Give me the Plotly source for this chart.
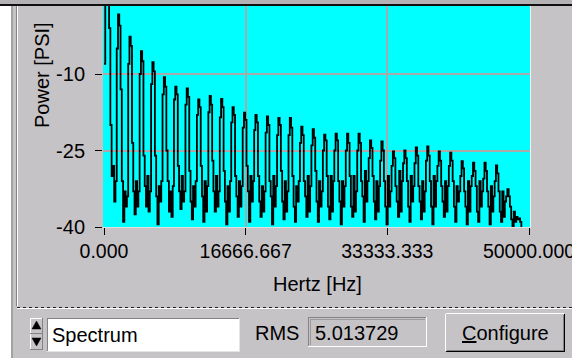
import plotly.graph_objects as go

# ---------------- data ----------------
freq_step_hz = 149.7
power_psi = [
    -8, 5,
    6, 4, -1, -20, -30, -28, -35, -31, -5,
    1.7, -0.5, -13, -31, -39, -33, -36, -34, -8,
    -2.7, -4.5, -23.5, -33, -37.5, -31, -36, -33, -10,
    -5.5, -7.5, -26, -32, -36, -30, -37, -33, -12,
    -7.7, -9.5, -26, -34, -39.5, -32, -35, -31, -14,
    -10.6, -12.5, -25, -31, -37, -33, -38, -32, -15,
    -12.5, -14, -28, -33, -36.5, -30, -35, -33, -16,
    -12.8, -14.5, -29, -35, -38.5, -32, -36, -31, -18,
    -15, -16.5, -28, -34, -39, -31, -37, -32, -17.5,
    -14.3, -16, -27, -33, -37, -30, -36, -33, -18.5,
    -14.9, -16.5, -29, -35, -39.5, -32, -37, -31, -19.5,
    -16.5, -18, -30, -34, -38, -31, -36, -32, -20.5,
    -17.6, -19, -28, -33, -39, -30, -35, -31, -21,
    -18, -19.5, -30, -35, -38, -32, -37, -33, -21.5,
    -18.3, -20, -31, -34, -39.5, -30, -36, -32, -22,
    -18.6, -20, -29, -35, -38.5, -31, -37, -33, -22,
    -18.6, -20.5, -30, -36, -39, -32, -35, -31, -23.5,
    -20.3, -22, -31, -34, -38, -30, -37, -32, -24,
    -20.8, -22.5, -29, -35, -39, -31, -36, -33, -25,
    -21.9, -23, -30, -36, -38.5, -30, -37, -31, -25,
    -21.7, -23, -31, -35, -39.5, -31, -36, -32, -25,
    -21.7, -23.5, -30, -36, -38, -30, -37, -33, -25,
    -21.7, -23.5, -31, -34, -39, -29, -35, -31, -26.5,
    -23, -24.5, -30, -35, -38.5, -31, -37, -32, -27,
    -23.2, -25, -31, -36, -39.5, -30, -36, -33, -28,
    -25.2, -26.5, -32, -35, -38, -29, -37, -31, -27.5,
    -25, -26.5, -31, -36, -39, -30, -35, -32, -27.5,
    -24.4, -26, -32, -35, -38.5, -31, -37, -33, -27,
    -24.2, -26, -31, -36, -39.5, -30, -36, -31, -28,
    -25.2, -27, -32, -35, -38, -31, -37, -32, -28,
    -25.4, -27, -31, -36, -39, -32, -35, -33, -30,
    -27.1, -28.5, -33, -36, -39.5, -31, -37, -32, -30,
    -27.4, -29, -32, -37, -39, -31, -36, -33, -30.5,
    -27.4, -29, -33, -36, -39.5, -32, -37, -34, -31,
    -27.9, -29.5, -33, -37, -39, -33, -38, -35, -34,
    -32.6, -34, -36, -38.5, -40.5, -37, -39, -38, -38.5,
    -38.3, -39, -41, -42, -43, -42, -44, -45, -45,
]
x_tick_vals = [0, 16666.667, 33333.333, 50000]
x_tick_text = ["0.000", "16666.667", "33333.333", "50000.000"]
y_tick_vals = [-40, -25, -10]
y_tick_text = ["-40", "-25", "-10"]
x_title = "Hertz [Hz]"
y_title = "Power [PSI]"
mode_label = "Spectrum"
rms_label = "RMS"
rms_value = "5.013729"
button_label = "<u>C</u>onfigure"

freqs = [i * freq_step_hz for i in range(len(power_psi))]

# ---------------- geometry helpers ----------------
W, H = 572, 358
PL, PR, PT, PB = 103, 530, 6, 227
FONT = "Liberation Sans, Arial, sans-serif"
GRAY = "#C6C3C6"
DARK = "#848284"


def px(x):
    return (x - PL) / (PR - PL)


def py(y):
    return (PB - y) / (PB - PT)


shapes = []


def rect(x0, y0, x1, y1, fill, line_color=None, lw=0):
    shapes.append(dict(type="rect", xref="paper", yref="paper",
                       x0=px(x0), x1=px(x1), y0=py(y0), y1=py(y1),
                       fillcolor=fill, layer="above",
                       line=dict(color=line_color or fill, width=lw)))


def seg(x0, y0, x1, y1, color, lw=1, dash="solid"):
    shapes.append(dict(type="line", xref="paper", yref="paper",
                       x0=px(x0), x1=px(x1), y0=py(y0), y1=py(y1),
                       layer="above", line=dict(color=color, width=lw, dash=dash)))


def tri(points, color):
    d = "M " + " L ".join(f"{px(a)},{py(b)}" for a, b in points) + " Z"
    shapes.append(dict(type="path", xref="paper", yref="paper", path=d,
                       fillcolor=color, layer="above", line=dict(color=color, width=0.5)))


# window frame
rect(0, 0, W, 4, "#B5B2B5")
rect(0, 4, W, 6, "#101010")
rect(0, 6, 11, H, "#FFFFFF")
rect(11, 6, 13, H, "#A5A2A5")
seg(16.5, 6, 16.5, 306, DARK)
seg(17.5, 6, 17.5, 306, "#FFFFFF")
seg(17, 307.5, W, 307.5, "#202020", 1, "dot")
seg(17, 308.5, W, 308.5, "#FFFFFF")

# plot frame edges
seg(PR + 0.5, PT, PR + 0.5, PB + 1, "#E8FFFF")
seg(PL - 0.5, PB + 0.5, PR + 1, PB + 0.5, "#E0E0E0")

# spinner
rect(30, 318, 43, 350, GRAY)
seg(30, 318.5, 43, 318.5, "#FFFFFF")
seg(30.5, 318, 30.5, 350, "#FFFFFF")
seg(30, 349.5, 43, 349.5, DARK)
seg(42.5, 318, 42.5, 350, DARK)
seg(30, 333.5, 43, 333.5, DARK)
tri([(36.5, 321), (32, 329), (41, 329)], "#000000")
tri([(32, 338), (41, 338), (36.5, 346)], "#000000")

# text box
rect(47, 318, 240, 352, "#FFFFFF")
seg(47, 318.5, 240, 318.5, DARK)
seg(47.5, 318, 47.5, 352, DARK)
seg(47, 351.5, 240, 351.5, "#E6E3E6")
seg(239.5, 318, 239.5, 352, "#E6E3E6")

# RMS indicator box
rect(308, 317, 427, 347, GRAY)
seg(308, 317.5, 427, 317.5, DARK)
seg(308.5, 317, 308.5, 347, DARK)
seg(310, 319.5, 425, 319.5, "#9C9A9C")
seg(310.5, 319, 310.5, 345, "#9C9A9C")
seg(308, 346.5, 427, 346.5, "#FFFFFF")
seg(426.5, 317, 426.5, 347, "#FFFFFF")

# Configure button
rect(445, 313, 565, 352, GRAY)
seg(446, 313.5, 564, 313.5, "#FFFFFF")
seg(445.5, 314, 445.5, 351, "#FFFFFF")
seg(446, 351.5, 565, 351.5, "#000000")
seg(564.5, 314, 564.5, 352, "#000000")
seg(447, 350.5, 564, 350.5, DARK)
seg(563.5, 315, 563.5, 351, DARK)

annotations = [
    dict(text=x_title, x=px(317), y=py(284), xanchor="center", yanchor="middle"),
    dict(text=y_title, x=px(42), y=py(75), xanchor="center", yanchor="middle", textangle=-90),
    dict(text=mode_label, x=px(50), y=py(335), xanchor="left", yanchor="middle"),
    dict(text=rms_label, x=px(253), y=py(333), xanchor="left", yanchor="middle"),
    dict(text=rms_value, x=px(313), y=py(333), xanchor="left", yanchor="middle"),
    dict(text=button_label, x=px(505), y=py(333), xanchor="center", yanchor="middle"),
]
for a in annotations:
    a.update(xref="paper", yref="paper", showarrow=False,
             font=dict(family=FONT, size=20, color="#000000"))

fig = go.Figure()
fig.add_trace(go.Scatter(x=freqs, y=power_psi, mode="lines",
                         line=dict(color="#000000", width=1.8, shape="hv"),
                         hoverinfo="skip", showlegend=False))

x_scale = (529 - 104) / 50000.0
axis_common = dict(ticks="outside", ticklen=7, tickcolor="#000000", tickwidth=1,
                   showgrid=True, gridcolor="#A9A9A9", gridwidth=2,
                   zeroline=False, showline=False, automargin=False,
                   ticklabeloverflow="allow",
                   fixedrange=True)
fig.update_layout(
    width=W, height=H,
    margin=dict(l=PL, r=W - PR, t=PT, b=H - PB, pad=0),
    paper_bgcolor=GRAY, plot_bgcolor="#00FFFF",
    showlegend=False,
    font=dict(family=FONT, size=20, color="#000000"),
    xaxis=dict(range=[-1 / x_scale, 50000 + 1 / x_scale], tickvals=x_tick_vals,
               ticktext=x_tick_text,
               tickfont=dict(family=FONT, size=19.5, color="#000000"), **axis_common),
    yaxis=dict(range=[-40, 3.333], tickvals=y_tick_vals, ticktext=y_tick_text,
               ticklabelstandoff=6,
               tickfont=dict(family=FONT, size=20, color="#000000"), **axis_common),
    shapes=shapes,
    annotations=annotations,
)

fig.write_html("out.html")
